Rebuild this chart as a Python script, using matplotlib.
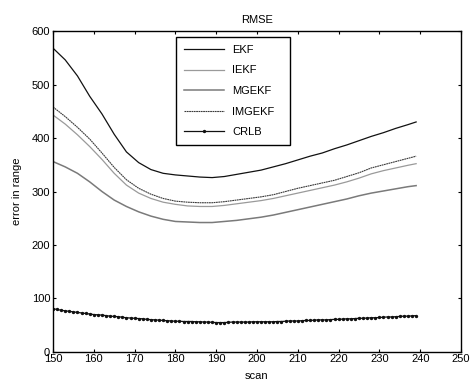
import numpy as np
import matplotlib
matplotlib.use('Agg')
import matplotlib.pyplot as plt

plt.rcParams['font.family'] = ['Liberation Sans', 'DejaVu Sans']

# filter curves sampled every 3 scans (plus the last scan)
scan = [150, 153, 156, 159, 162, 165, 168, 171, 174, 177, 180, 183, 186, 189,
        192, 195, 198, 201, 204, 207, 210, 213, 216, 219, 222, 225, 228, 231,
        234, 237, 239]

ekf = [568, 546, 516, 478, 445, 407, 374, 354, 341, 334, 331, 329, 327, 326,
       328, 332, 336, 340, 346, 352, 359, 366, 372, 380, 387, 395, 403, 410,
       418, 425, 430]

iekf = [443, 426, 406, 384, 360, 334, 312, 297, 287, 280, 276, 273, 272, 272,
        274, 277, 280, 283, 287, 292, 297, 302, 307, 312, 318, 325, 333, 339,
        344, 349, 352]

mgekf = [356, 346, 334, 318, 300, 284, 272, 262, 254, 248, 244, 243, 242, 242,
         244, 246, 249, 252, 256, 261, 266, 271, 276, 281, 286, 292, 297, 301,
         305, 309, 311]

imgekf = [458, 440, 420, 398, 372, 345, 322, 306, 295, 287, 282, 280, 279, 279,
          281, 284, 287, 290, 294, 300, 306, 311, 316, 321, 328, 335, 344, 350,
          356, 362, 366]

# CRLB, every scan 150..239
scan_crlb = list(range(150, 240))
crlb = [81, 79.5, 78, 77, 76, 75, 74, 73, 72, 71,
        70, 69.5, 69, 68, 67, 66.5, 66, 65, 64, 63.5,
        63, 62.5, 62, 61, 60.5, 60, 59.5, 59, 58.5, 58,
        57.5, 57.5, 57, 57, 57, 56.5, 56.5, 56, 56, 55.5,
        55, 55, 55, 55.5, 56, 56, 56, 56, 56, 56.5,
        56.5, 56.5, 56.5, 56.5, 56.5, 57, 57, 57.5, 58, 58,
        58, 58.5, 59, 59, 59.5, 60, 60, 60, 60.5, 61,
        61, 61.5, 62, 62, 62.5, 63, 63, 63.5, 64, 64,
        64.5, 65, 65.5, 65.5, 66, 66.5, 67, 67, 67.5, 68]

xticks = list(range(150, 251, 10))
yticks = list(range(0, 601, 100))


def plot():

    fig = plt.figure(figsize=(4.71, 3.80), dpi=100)
    ax = fig.add_axes([0.1125, 0.0737, 0.8663, 0.8447])

    ax.plot(scan, ekf, c='#111111', lw=0.9, label='EKF')
    ax.plot(scan, iekf, c='#9a9a9a', lw=0.9, label='IEKF')
    ax.plot(scan, mgekf, c='#7a7a7a', lw=1.1, label='MGEKF')
    ax.plot(scan, imgekf, c='#3a3a3a', lw=0.8, ls=(0, (1.6, 0.5)), label='IMGEKF')
    ax.plot(scan_crlb, crlb, c='#111111', lw=0.9, marker='.', markersize=2.8,
            label='CRLB')

    ax.set_xlim(150, 250)
    ax.set_ylim(0, 600)
    ax.set_xticks(xticks)
    ax.set_yticks(yticks)
    ax.tick_params(direction='in', top=True, right=True, length=2.5,
                   width=0.8, labelsize=8)
    ax.tick_params(axis='x', pad=1.5)
    ax.tick_params(axis='y', pad=2)
    for s in ax.spines.values():
        s.set_linewidth(1.0)

    ax.set_title('RMSE', fontsize=8, pad=6)
    ax.set_xlabel('scan', fontsize=8, labelpad=5)
    ax.set_ylabel('error in range', fontsize=8, labelpad=7)

    leg = ax.legend(loc='upper left', bbox_to_anchor=(0.301, 0.981, 0.28, 0.0),
                    mode='expand',
                    fontsize=8, handlelength=3.6, handletextpad=0.75,
                    labelspacing=0.95, borderpad=0.7, borderaxespad=0,
                    fancybox=False, framealpha=1)
    leg.get_frame().set_edgecolor('black')
    leg.get_frame().set_linewidth(1.0)

    fig.savefig('out.png', dpi=100)


if __name__ == '__main__':
    plot()
